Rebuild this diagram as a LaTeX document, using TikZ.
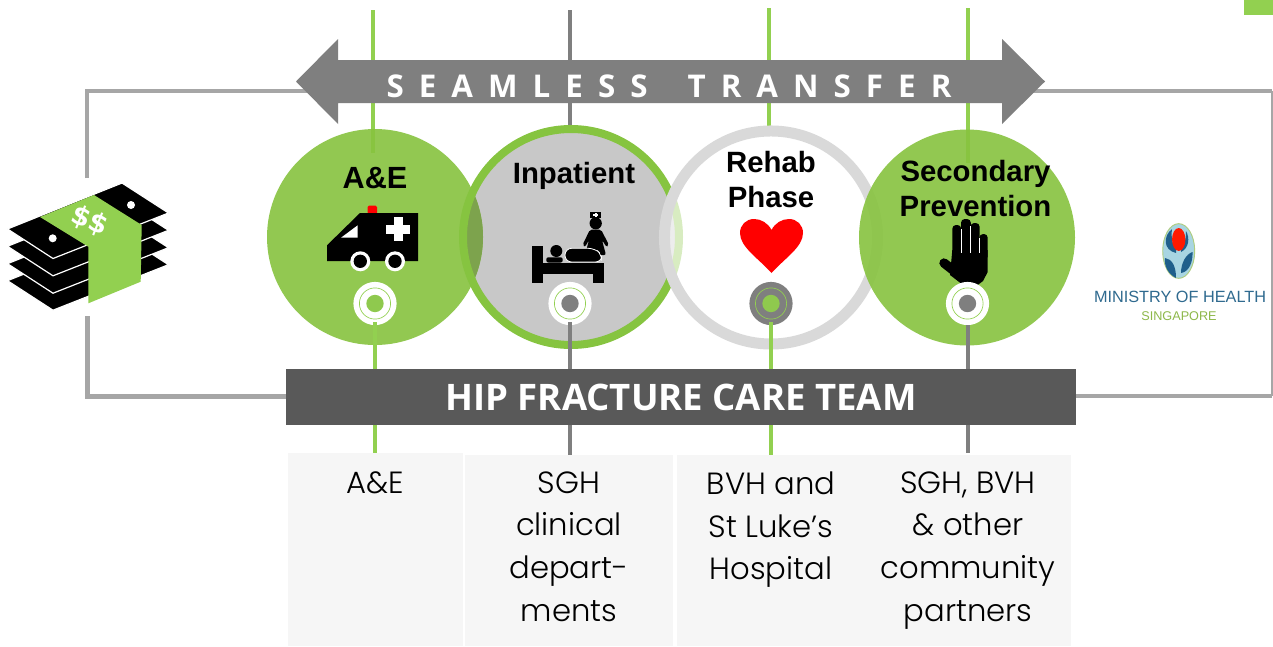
\documentclass[tikz,border=0pt]{standalone}
\usepackage{fontspec}
\setmainfont{Liberation Sans}
\newfontfamily\boxfont{Poppins}[UprightFont=* Light]
\newfontfamily\openb{Open Sans}[UprightFont=* Bold]
\newfontfamily\seam{Open Sans}[UprightFont=* Bold,LetterSpace=48]
\newfontfamily\dollarf{DejaVu Sans}[UprightFont=* Bold]
\definecolor{cgreen}{HTML}{87C33F}
\definecolor{lgreen}{HTML}{92D050}
\definecolor{dotg}{HTML}{8FC94E}
\definecolor{ringg}{HTML}{86C440}
\definecolor{lens}{HTML}{7DA34D}
\definecolor{mgray}{HTML}{7F7F7F}
\definecolor{fgray}{HTML}{A6A6A6}
\definecolor{dbar}{HTML}{595959}
\definecolor{pgray}{HTML}{C8C8C8}
\definecolor{rring}{HTML}{D9D9D9}
\definecolor{boxc}{HTML}{F6F6F6}
\definecolor{mohblue}{HTML}{2F6A8F}
\definecolor{mohdark}{HTML}{1F5F8B}
\definecolor{mohlight}{HTML}{A8D5E2}
\definecolor{mohgreen}{HTML}{8DB84A}
\tikzset{
  frameline/.style={draw=fgray,line width=3pt},
  gline/.style={draw=lgreen,line width=3pt},
  kline/.style={draw=mgray,line width=3pt},
  bigc/.style={circle,minimum size=162pt,inner sep=0pt,outer sep=0pt},
  hub/.style={circle,minimum size=32.4pt,inner sep=0pt,outer sep=0pt,fill=white},
  hubring/.style={draw=lgreen,line width=0.5pt},
  head/.style={font=\fontsize{22}{26}\selectfont\bfseries,text=black,align=center,inner sep=0pt},
  boxn/.style={fill=boxc,inner sep=0pt,outer sep=0pt,anchor=north west},
  boxt/.style={font=\boxfont\fontsize{23}{31.9}\selectfont,text=black,align=center,inner sep=0pt,anchor=north},
}
\begin{document}
\begin{tikzpicture}[x=0.75pt,y=-0.75pt]
\useasboundingbox (0,0) rectangle (1273,646);
\fill[white] (0,0) rectangle (1273,646);
\fill[lgreen] (1244,0) rectangle (1273,15);

% coordinates
\coordinate (fl1) at (87,178); \coordinate (fl2) at (87,91); \coordinate (fl3) at (310,91);
\coordinate (fb1) at (87,316); \coordinate (fb2) at (87,396); \coordinate (fb3) at (290,396);
\coordinate (fr1) at (1030,91); \coordinate (fr2) at (1272,91); \coordinate (fr3) at (1272,396); \coordinate (fr4) at (1070,396);
\coordinate (t1) at (373,10); \coordinate (e1) at (373,153);
\coordinate (t2) at (570,10); \coordinate (e2) at (570,127);
\coordinate (t3) at (769,8);  \coordinate (e3) at (769,131);
\coordinate (t4) at (968,8);  \coordinate (e4) at (968,163);

% frame lines
\draw[frameline] (fl1) -- (fl2) -- (fl3);
\draw[frameline,line width=3.75pt] (fb1) -- (fb2) -- (fb3);
\draw[frameline] (fr1) -- (fr2);
\draw[draw=fgray,line width=0.8pt] (fr2) -- (fr3);
\draw[frameline,line width=2.5pt] (fr4) -- (fr3);

% top verticals
\draw[gline] (t1) -- (e1);
\draw[kline] (t2) -- (e2);
\draw[gline] (t3) -- (e3);
\draw[gline] (t4) -- (e4);

% arrow
\fill[mgray] (296,81.5) -- (338,39) -- (338,60) -- (1002,60) -- (1002,39) -- (1045,81.5) -- (1002,124) -- (1002,103) -- (338,103) -- (338,124) -- cycle;
\node[text=white,inner sep=0pt,font=\seam\fontsize{23.5}{27}\selectfont] (seamless) at (669,86) {SEAMLESS\hspace{30pt}TRANSFER};

% big circles
\node[bigc,fill=pgray] (ip) at (571,237) {};
\node[bigc,fill=cgreen,fill opacity=0.9] (ae) at (375,237) {};
\begin{scope}
  \clip (ae.center) circle [radius=81pt];
  \fill[lens] (ip.center) circle [radius=81pt];
\end{scope}
\draw[ringg,line width=6pt] (ip.center) circle [radius=81pt];
\node[bigc,fill=white,fill opacity=0.68,minimum size=162pt] (rh) at (771,237.5) {};
\draw[rring,line width=8.25pt] (rh.center) circle [radius=79.9pt];
\node[bigc,fill=cgreen,fill opacity=0.9] (sp) at (967,237.5) {};

% headings
\node[head,font=\fontsize{23}{27}\selectfont\bfseries] (hae) at (375,178) {A\&E};
\node[head] (hip) at (574,176) {Inpatient};
\node[head] (hrh) at (771,179.5) {Rehab\\[0.6pt]Phase};
\node[head] (hsp) at (975.5,188.5) {Secondary\\[0.4pt]Prevention};

% ambulance
\fill[red,rounded corners=1pt] (367.7,205.7) rectangle (377,214);
\fill[black] (327,245.3) -- (360,213) -- (418,213) -- (418,261) -- (327,261) -- cycle;
\fill[white] (341,237.7) -- (357.7,225.3) -- (357.7,237.7) -- cycle;
\fill[white] (386,224.5) rectangle (410,233.5);
\fill[white] (393.5,217) rectangle (402.5,241);
\fill[white] (360.3,261.3) circle [radius=7.5pt];
\fill[black] (360.3,261.3) circle [radius=5pt];
\fill[white] (395,261.3) circle [radius=7.5pt];
\fill[black] (395,261.3) circle [radius=5pt];

% bed and nurse
\fill[black] (595.7,223.3) circle [radius=4.6pt];
\fill[black] (590.3,212) rectangle (601.3,217.7);
\fill[white] (594.7,213) rectangle (596.7,216.7);
\fill[white] (593.3,214) rectangle (598.3,215.7);
\fill[black,rounded corners=1.5pt] (590,229.5) -- (601,229.5) -- (609,245) -- (606.5,247) -- (602,240) -- (606,255) -- (585,255) -- (589,240) -- (585,247) -- (582.5,245) -- cycle;
\fill[black] (532,246) rectangle (543,283);
\fill[black] (532,262.7) rectangle (604,274);
\fill[black] (593,274) rectangle (604,283);
\fill[black] (556.3,251) circle [radius=4.5pt];
\fill[black,rounded corners=1.5pt] (546.3,257.3) rectangle (562.7,262.5);
\draw[white,fill=black,line width=0.6pt,rounded corners=5pt] (565,262) -- (565,248.3) -- (595,248.3) -- (602,255) -- (602,262) -- cycle;

% heart
\fill[red] (771.5,273) .. controls (758,258) and (740,247) .. (740,233) .. controls (740,225) and (746,219) .. (754,219) .. controls (761,219) and (768,223) .. (771.5,230) .. controls (775,223) and (782,219) .. (789,219) .. controls (797,219) and (803,225) .. (803,233) .. controls (803,247) and (785,258) .. (771.5,273) -- cycle;

% hand
\begin{scope}
\fill[black,rounded corners=2.8pt] (952.3,260) -- (952.3,225) -- (961.2,225) -- (961.2,260) -- cycle;
\fill[black,rounded corners=2.8pt] (961,260) -- (961,219) -- (970.8,219) -- (970.8,260) -- cycle;
\fill[black,rounded corners=2.8pt] (970.5,260) -- (970.5,223) -- (979.6,223) -- (979.6,260) -- cycle;
\fill[black,rounded corners=2.8pt] (979.4,260) -- (979.4,234) -- (987.7,234) -- (987.7,260) -- cycle;
\fill[black] (952.3,250) -- (987.7,250) -- (987.7,272) -- (983,281) -- (975,287) -- (963,285) -- (950,275) -- cycle;
\draw[black,line width=7pt,line cap=round] (944,263) -- (958,274);
\draw[white,line width=0.35pt] (961,229) -- (961,253);
\draw[white,line width=0.35pt] (970.7,226) -- (970.7,253);
\draw[white,line width=0.35pt] (979.5,238) -- (979.5,253);
\end{scope}

% hubs
\node[hub] (s1) at (375,303.5) {};
\node[hub] (s2) at (570,303.5) {};
\node[hub,fill=mgray] (s3) at (771,303.5) {};
\node[hub] (s4) at (967.5,303.5) {};
\draw[hubring] (s1.center) circle [radius=11.7pt];
\draw[hubring] (s2.center) circle [radius=11.7pt];
\draw[hubring] (s3.center) circle [radius=11.7pt];
\draw[hubring] (s4.center) circle [radius=11.7pt];
\fill[dotg] (s1.center) circle [radius=6.5pt];
\fill[mgray] (s2.center) circle [radius=6.5pt];
\fill[dotg] (s3.center) circle [radius=6.5pt];
\fill[mgray] (s4.center) circle [radius=6.5pt];

% lower verticals
\coordinate (b1) at (375,455); \coordinate (b2) at (570,456); \coordinate (b3) at (771,456); \coordinate (b4) at (967.5,453);
\draw[gline,shorten <=-2pt] (s1.south) -- (b1);
\draw[kline,shorten <=-2pt] (s2.south) -- (b2);
\draw[gline,shorten <=-2pt] (s3.south) -- (b3);
\draw[kline] (s4.south) -- (b4);

% team bar
\node[fill=dbar,minimum width=592.5pt,minimum height=42pt,inner sep=0pt,outer sep=0pt,text=white,font=\openb\fontsize{27.4}{32}\selectfont] (bar) at (681,397) {\raisebox{-1pt}{HIP FRACTURE CARE TEAM}};

% boxes
\node[boxn,minimum width=131.25pt,minimum height=144.75pt] (box1) at (288,453) {};
\node[boxn,minimum width=156pt,minimum height=143.25pt] (box2) at (465,455) {};
\node[boxn,minimum width=141.75pt,minimum height=143.25pt] (box3) at (677,455) {};
\node[boxn,minimum width=153.75pt,minimum height=143.25pt] (box4) at (866,455) {};
\node[boxt] (tx1) at (375.5,471) {A\&E};
\node[boxt] (tx2) at (569,471.5) {SGH\\clinical\\depart-\\ments};
\node[boxt] (tx3) at (771,471.5) {BVH and\\St Luke’s\\Hospital};
\node[boxt] (tx4) at (968,471.5) {SGH, BVH\\\& other\\community\\partners};

% money
\foreach \d in {51.7,34.7,17.3} {
  \fill[black,draw=white,line width=0.9pt] (7.5,229+\d) -- (122,183+\d) -- (168.5,213+\d) -- (53,258.5+\d) -- cycle;
}
\fill[black,draw=white,line width=0.9pt] (7.5,229) -- (122,183) -- (168.5,213) -- (53,258.5) -- cycle;
\fill[white] (52.7,238.3) circle [radius=3pt];
\fill[white] (131,205) circle [radius=3pt];
\fill[lgreen] (40,217) -- (94,195) -- (141.7,225) -- (140.7,281.7) -- (88.3,303.3) -- (88.3,246.7) -- cycle;
\node[text=white,rotate=-22,inner sep=0pt,font=\dollarf\fontsize{20}{24}\selectfont] (dollar) at (90,221) {\$\$};

% MOH logo
\fill[mohlight,draw=mohgreen!70,line width=0.7pt] (1178.7,251) ellipse [x radius=12pt,y radius=20.5pt];
\fill[mohdark] (1172,229) .. controls (1163,236) and (1163,250) .. (1176,253) -- (1176,248) .. controls (1172,245) and (1171,236) .. (1172,229) -- cycle;
\fill[mohdark] (1186,231) .. controls (1190,238) and (1189,248) .. (1181,252) -- (1181,248) .. controls (1185,245) and (1186,238) .. (1186,231) -- cycle;
\fill[red!80!orange] (1178.7,239.5) ellipse [x radius=5pt,y radius=8.6pt];
\fill[mohdark] (1165,258) .. controls (1172,259) and (1176,266) .. (1176,278) .. controls (1168,274) and (1164,266) .. (1165,258) -- cycle;
\fill[mohdark] (1192.5,252) .. controls (1186,254) and (1181,263) .. (1181,273) .. controls (1189,272) and (1193,262) .. (1192.5,252) -- cycle;
\node[text=mohblue,inner sep=0pt,font=\fontsize{12.2}{14}\selectfont] (moh) at (1180,297) {MINISTRY OF HEALTH};
\node[text=mohgreen,inner sep=0pt,font=\fontsize{9.5}{11}\selectfont] (sing) at (1179,316) {SINGAPORE};
\end{tikzpicture}
\end{document}
